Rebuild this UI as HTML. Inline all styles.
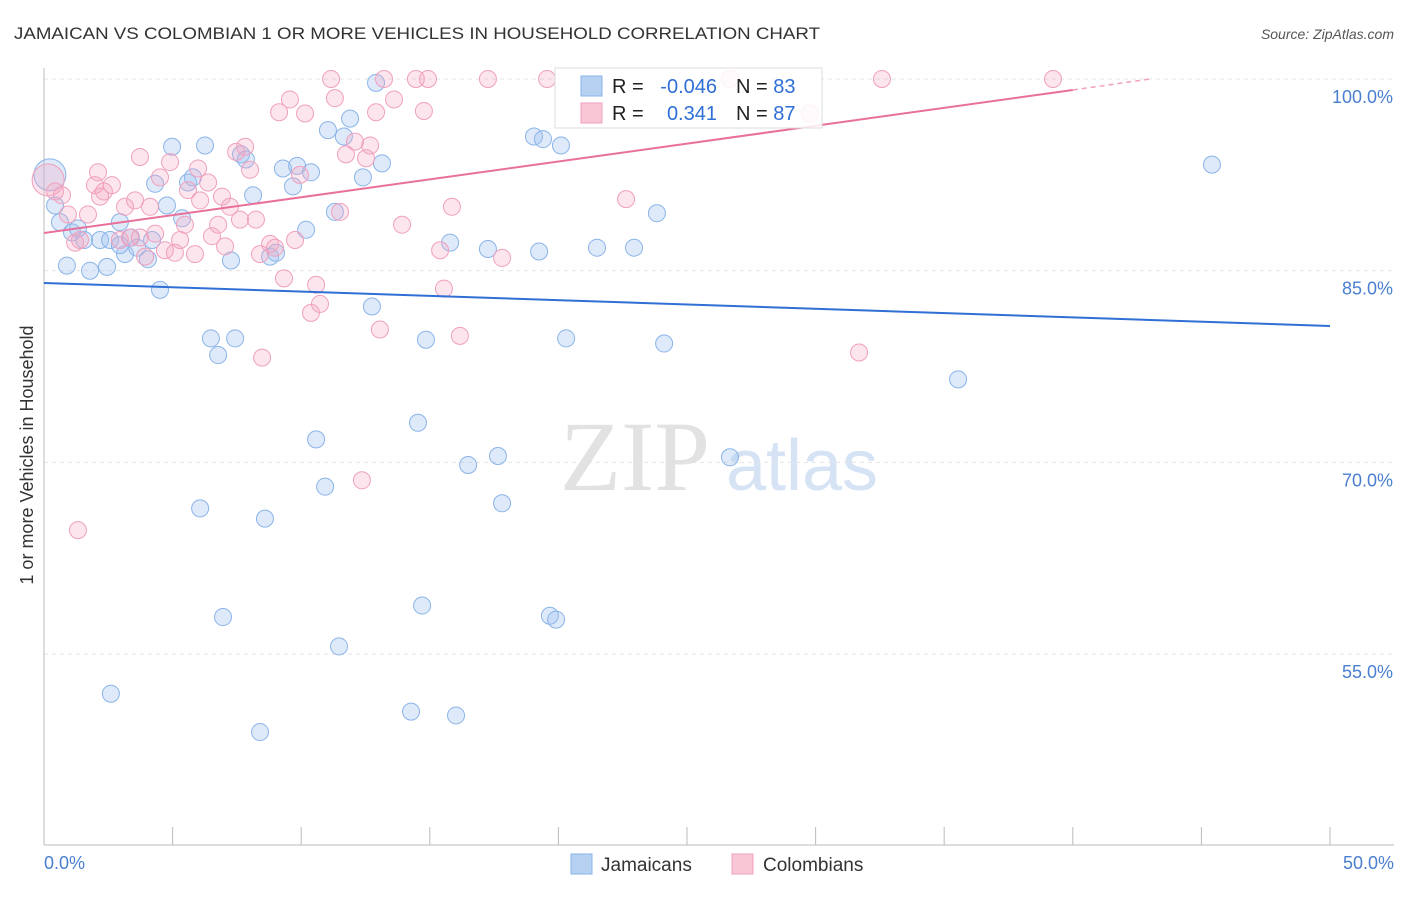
<!DOCTYPE html>
<html><head><meta charset="utf-8"><style>
body{margin:0;background:#fff;font-family:"Liberation Sans",sans-serif;}
</style></head><body>
<svg id="c" width="1406" height="892" xmlns="http://www.w3.org/2000/svg">
<text x="14" y="39" font-size="17" fill="#333" textLength="806" lengthAdjust="spacingAndGlyphs">JAMAICAN VS COLOMBIAN 1 OR MORE VEHICLES IN HOUSEHOLD CORRELATION CHART</text>
<text x="1394" y="39" font-size="14" fill="#555" font-style="italic" text-anchor="end">Source: ZipAtlas.com</text>
<text x="33" y="455" font-size="18" fill="#333" text-anchor="middle" transform="rotate(-90 33 455)">1 or more Vehicles in Household</text>
<g>
<text x="635" y="490" font-size="100" fill="#e2e2e2" font-family="Liberation Serif,serif" text-anchor="middle">ZIP</text>
<text x="802" y="490" font-size="72" fill="#d5e3f5" text-anchor="middle">atlas</text>
</g>
<g id="grid"></g><g id="axes"></g><g id="pts"></g><g id="lines"></g>
<g>
<rect x="555" y="68" width="267" height="60" fill="#fff" fill-opacity="0.85" stroke="#ddd"/>
<rect x="581" y="76" width="21" height="20" fill="#b6d0f2" stroke="#8ab4e8"/>
<rect x="581" y="103" width="21" height="20" fill="#f9c6d6" stroke="#f0a0bd"/>
<text x="612" y="93" font-size="20" fill="#222">R = </text>
<text x="717" y="93" font-size="20" fill="#2f6fd6" text-anchor="end">-0.046</text>
<text x="736" y="93" font-size="20" fill="#222">N = <tspan fill="#2f6fd6">83</tspan></text>
<text x="612" y="120" font-size="20" fill="#222">R = </text>
<text x="717" y="120" font-size="20" fill="#2f6fd6" text-anchor="end">0.341</text>
<text x="736" y="120" font-size="20" fill="#222">N = <tspan fill="#2f6fd6">87</tspan></text>
</g>
<g>
<rect x="571" y="854" width="21" height="20" fill="#b6d0f2" stroke="#8ab4e8"/>
<text x="601" y="871" font-size="19" fill="#333">Jamaicans</text>
<rect x="732" y="854" width="21" height="20" fill="#f9c6d6" stroke="#f0a0bd"/>
<text x="763" y="871" font-size="19" fill="#333">Colombians</text>
</g>
</svg>
<script>
const yTicks=[100,85,70,55];
const yTickLabels=["100.0%","85.0%","70.0%","55.0%"];
const xTickLabels=["0.0%","50.0%"];
const blueX=[0.23,0.43,0.62,0.89,1.09,1.32,1.56,1.79,2.18,2.45,2.95,3.15,3.38,3.62,4.04,4.32,4.51,4.78,4.98,5.37,5.60,5.79,6.07,6.26,6.49,6.77,6.96,7.27,7.43,7.66,7.85,8.13,8.59,8.79,9.02,9.29,9.68,9.84,10.19,10.38,10.58,10.93,11.04,11.31,11.47,11.66,11.90,12.40,12.75,12.91,13.14,14.27,14.54,14.70,14.85,15.79,16.02,16.49,17.26,17.65,17.81,19.05,19.25,19.40,19.67,19.91,20.10,20.30,21.50,22.94,23.83,24.11,26.67,35.54,45.41,2.60,8.40,2.57,4.20,2.95];
const blueY=[92.5,90.1,88.8,85.4,88.0,88.3,87.4,85.0,87.4,85.3,88.8,86.3,87.6,86.8,85.9,91.8,83.5,90.1,94.7,89.1,91.9,92.3,66.4,94.8,79.7,78.4,57.9,85.8,79.7,94.1,93.7,90.9,65.6,86.1,86.4,93.0,91.6,93.2,88.2,92.7,71.8,68.1,96.0,89.6,55.6,95.5,96.9,92.3,82.2,99.7,93.4,50.5,73.1,58.8,79.6,87.2,50.2,69.8,86.7,70.5,66.8,95.5,86.5,95.3,58.0,57.7,94.8,79.7,86.8,86.8,89.5,79.3,70.4,76.5,93.3,51.9,48.9,87.4,87.4,87.0];
const pinkX=[0.16,0.43,0.70,0.93,1.21,1.40,1.71,1.98,2.10,2.33,2.64,2.95,3.15,3.34,3.54,3.73,3.93,4.12,4.32,4.51,4.70,4.90,5.09,5.29,5.48,5.60,5.87,5.99,6.38,6.53,6.77,6.92,7.23,7.47,7.62,7.82,8.01,8.24,8.48,8.79,8.98,9.14,9.33,9.56,9.76,9.95,10.15,10.38,10.58,10.73,11.16,11.31,11.51,11.74,12.09,12.36,12.52,12.68,12.91,13.06,13.22,13.61,13.92,14.46,14.77,14.93,15.40,15.55,15.86,16.17,17.26,17.81,19.56,22.63,26.67,29.78,31.69,32.58,39.23,1.32,8.40,6.07,3.73,7.04,2.18];
const pinkY=[92.1,91.2,90.9,89.4,87.2,87.4,89.4,91.7,92.7,91.2,91.7,87.4,90.0,87.6,90.5,93.9,86.1,90.0,87.9,92.3,86.6,93.5,86.4,87.4,88.6,91.3,86.3,93.0,91.9,87.7,88.6,90.8,90.0,94.3,89.0,94.7,92.9,89.0,78.2,87.1,86.8,97.4,84.4,98.4,87.4,92.5,97.3,81.7,83.9,82.4,100.0,98.5,89.6,94.1,95.1,68.6,93.8,94.8,97.4,80.4,100.0,98.4,88.6,100.0,97.5,100.0,86.6,83.6,90.0,79.9,100.0,86.0,100.0,90.6,100.0,97.3,78.6,100.0,100.0,64.7,86.3,90.5,87.6,86.9,90.8];
const blueTrend=[[0,84.04],[50,80.67]];
const pinkTrend=[[0,87.95],[40,99.14],[43,100.0]];
const NS="http://www.w3.org/2000/svg";
const X=v=>44+v*25.72, Y=v=>79+(100-v)*12.78;
function mk(t,a,p){const e=document.createElementNS(NS,t);for(const k in a)e.setAttribute(k,a[k]);document.getElementById(p).appendChild(e);return e;}
yTicks.forEach((t,i)=>{
 const l=mk('line',{x1:44,x2:1394,y1:Y(t),y2:Y(t),stroke:'#e4e4e4','stroke-dasharray':'4,4'},'grid');
 
 
 const tx=mk('text',{x:1393,y:Y(t)+24,'font-size':18,fill:'#4a7fd0','text-anchor':'end'},'axes');
 tx.textContent=yTickLabels[i];
 
 
});
const ax=mk('line',{x1:44,x2:44,y1:68,y2:845,stroke:'#bbb'},'axes');


const bx=mk('line',{x1:44,x2:1394,y1:845,y2:845,stroke:'#bbb'},'axes');


for(let i=0;i<=10;i++){const t=mk('line',{x1:X(i*5),x2:X(i*5),y1:827,y2:845,stroke:'#bbb'},'axes');
 
 }
[[0,'start',44],[50,'end',1394]].forEach((d,i)=>{const t=mk('text',{x:d[2],y:869,'font-size':18,fill:'#4a7fd0','text-anchor':d[1]},'axes');t.textContent=xTickLabels[i];
 
 });
function dots(xs,ys,fill,stroke,name){xs.forEach((x,i)=>{const r=(x<0.3)?16:8.5;
 const c=mk('circle',{cx:X(x),cy:Y(ys[i]),r:r,fill:fill,stroke:stroke,'stroke-width':1},'pts');
 
 });}
dots(blueX,blueY,'rgba(160,196,240,0.35)','#8ab4e8','jamaican-point');
dots(pinkX,pinkY,'rgba(245,170,195,0.3)','#f0a0bd','colombian-point');
const bl=mk('line',{x1:X(blueTrend[0][0]),y1:Y(blueTrend[0][1]),x2:X(blueTrend[1][0]),y2:Y(blueTrend[1][1]),stroke:'#2f6fd6','stroke-width':2},'lines');


const pl=mk('line',{x1:X(pinkTrend[0][0]),y1:Y(pinkTrend[0][1]),x2:X(pinkTrend[1][0]),y2:Y(pinkTrend[1][1]),stroke:'#e8709a','stroke-width':2},'lines');


const pd=mk('line',{x1:X(pinkTrend[1][0]),y1:Y(pinkTrend[1][1]),x2:X(pinkTrend[2][0]),y2:Y(pinkTrend[2][1]),stroke:'#f0a0bd','stroke-width':1.5,'stroke-dasharray':'5,4'},'lines');


</script>
</body></html>
